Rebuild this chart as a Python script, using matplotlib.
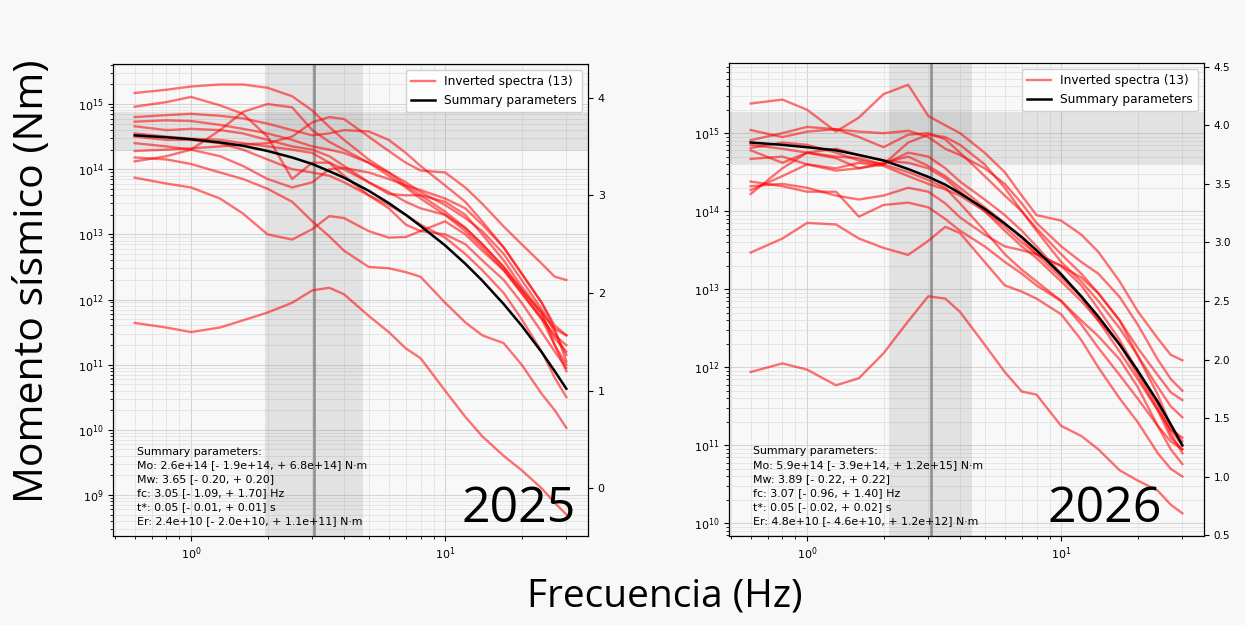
import matplotlib
matplotlib.use("Agg")
import matplotlib.pyplot as plt
import numpy as np

# Frequencies (Hz) where the spectra were sampled
FREQS = [0.6, 0.8, 1.0, 1.3, 1.6, 2.0, 2.5, 3.0, 3.5, 4.0, 5.0, 6.0, 7.0, 8.0,
         10, 12, 14, 17, 20, 24, 27, 30]

# --- 2025 event: log10 of seismic moment (N·m) for each inverted spectrum
SPEC_2025 = [
    [15.17, 15.22, 15.27, 15.30, 15.30, 15.25, 15.12, 14.90, 14.65, 14.45, 14.15, 13.95, 13.75, 13.60, 13.35, 13.10, 12.85, 12.50, 12.15, 11.80, 11.55, 11.45],
    [14.96, 15.03, 15.11, 14.98, 14.85, 14.50, 13.85, 14.10, 14.10, 14.00, 13.80, 13.65, 13.50, 13.40, 13.30, 13.10, 12.85, 12.50, 12.15, 11.75, 11.40, 11.20],
    [14.28, 14.30, 14.32, 14.35, 14.38, 14.40, 14.50, 14.72, 14.80, 14.77, 14.50, 14.28, 14.10, 13.98, 13.95, 13.72, 13.47, 13.12, 12.85, 12.55, 12.35, 12.30],
    [14.12, 14.20, 14.30, 14.60, 14.88, 15.00, 14.95, 14.60, 14.42, 14.30, 14.10, 13.90, 13.72, 13.55, 13.30, 13.05, 12.80, 12.45, 12.10, 11.70, 11.45, 11.30],
    [14.80, 14.83, 14.85, 14.82, 14.78, 14.70, 14.60, 14.52, 14.55, 14.60, 14.58, 14.45, 14.25, 14.05, 13.75, 13.50, 13.20, 12.80, 12.40, 11.95, 11.60, 11.45],
    [14.73, 14.75, 14.74, 14.68, 14.62, 14.55, 14.45, 14.35, 14.30, 14.25, 14.10, 13.95, 13.80, 13.65, 13.45, 13.25, 13.05, 12.70, 12.30, 11.85, 11.50, 11.15],
    [14.66, 14.60, 14.62, 14.60, 14.55, 14.45, 14.35, 14.30, 14.20, 14.05, 13.80, 13.62, 13.60, 13.60, 13.50, 13.30, 13.00, 12.60, 12.20, 11.80, 11.30, 11.00],
    [14.55, 14.50, 14.47, 14.45, 14.40, 14.35, 14.30, 14.25, 14.10, 13.90, 13.60, 13.40, 13.15, 13.05, 13.00, 12.85, 12.60, 12.30, 11.95, 11.50, 11.20, 10.95],
    [14.40, 14.35, 14.30, 14.20, 14.05, 13.85, 13.72, 13.80, 14.00, 14.02, 13.95, 13.85, 13.75, 13.68, 13.55, 13.40, 13.15, 12.80, 12.40, 11.95, 11.55, 11.05],
    [13.87, 13.78, 13.72, 13.55, 13.32, 13.00, 12.92, 13.08, 13.28, 13.25, 13.05, 12.95, 12.96, 13.05, 13.20, 13.00, 12.75, 12.45, 12.10, 11.70, 11.30, 10.90],
    [14.18, 14.15, 14.08, 13.95, 13.85, 13.70, 13.50, 13.20, 12.97, 12.75, 12.50, 12.48, 12.42, 12.35, 11.95, 11.65, 11.45, 11.33, 11.00, 10.55, 10.30, 10.03],
    [11.64, 11.57, 11.50, 11.57, 11.68, 11.80, 11.95, 12.14, 12.18, 12.08, 11.75, 11.50, 11.25, 11.10, 10.60, 10.20, 9.90, 9.60, 9.38, 9.10, 8.88, 8.70],
    [14.50, 14.45, 14.45, 14.40, 14.30, 14.15, 14.00, 13.95, 13.90, 13.80, 13.60, 13.45, 13.30, 13.15, 12.95, 12.70, 12.45, 12.10, 11.70, 11.20, 10.80, 10.50],
]
SUMMARY_2025 = [14.52, 14.49, 14.46, 14.41, 14.36, 14.28, 14.18, 14.08, 13.97, 13.87, 13.67, 13.48, 13.30, 13.13,
                12.83, 12.55, 12.29, 11.93, 11.60, 11.19, 10.90, 10.63]

# --- 2026 event
SPEC_2026 = [
    [15.38, 15.43, 15.30, 15.02, 15.20, 15.50, 15.62, 15.22, 15.10, 15.00, 14.75, 14.50, 14.20, 13.95, 13.88, 13.70, 13.48, 13.10, 12.72, 12.37, 12.16, 12.09],
    [15.04, 14.95, 15.02, 15.05, 15.02, 15.00, 15.03, 14.95, 14.80, 14.72, 14.55, 14.35, 14.10, 13.85, 13.55, 13.35, 13.20, 12.90, 12.55, 12.10, 11.85, 11.70],
    [14.91, 15.00, 15.08, 15.05, 14.95, 14.82, 14.98, 15.00, 14.92, 14.75, 14.45, 14.20, 14.00, 13.78, 13.45, 13.20, 12.95, 12.60, 12.25, 11.90, 11.68, 11.58],
    [14.81, 14.88, 14.85, 14.75, 14.65, 14.60, 14.88, 14.98, 14.95, 14.85, 14.60, 14.30, 14.00, 13.75, 13.35, 13.10, 12.85, 12.50, 12.15, 11.75, 11.50, 11.36],
    [14.78, 14.62, 14.75, 14.68, 14.55, 14.62, 14.70, 14.58, 14.45, 14.30, 14.05, 13.85, 13.65, 13.45, 13.15, 12.90, 12.65, 12.30, 11.90, 11.45, 11.20, 11.10],
    [14.67, 14.70, 14.60, 14.55, 14.62, 14.58, 14.45, 14.35, 14.28, 14.20, 14.00, 13.80, 13.60, 13.45, 13.30, 13.15, 12.95, 12.60, 12.15, 11.65, 11.25, 11.05],
    [14.22, 14.55, 14.75, 14.80, 14.72, 14.65, 14.62, 14.55, 14.42, 14.25, 14.00, 13.75, 13.55, 13.40, 13.10, 12.85, 12.60, 12.30, 11.95, 11.55, 11.20, 11.00],
    [14.27, 14.45, 14.60, 14.52, 14.55, 14.60, 14.75, 14.70, 14.55, 14.38, 14.15, 13.95, 13.75, 13.55, 13.20, 12.90, 12.60, 12.20, 11.85, 11.45, 11.10, 10.95],
    [14.38, 14.32, 14.25, 14.25, 13.93, 14.08, 14.11, 14.05, 13.90, 13.75, 13.55, 13.35, 13.20, 13.05, 12.85, 12.60, 12.40, 12.10, 11.75, 11.25, 10.95, 10.76],
    [14.32, 14.35, 14.30, 14.20, 14.15, 14.20, 14.30, 14.25, 14.10, 13.92, 13.70, 13.55, 13.50, 13.45, 13.30, 13.05, 12.75, 12.35, 11.95, 11.50, 11.15, 10.90],
    [13.47, 13.65, 13.85, 13.83, 13.65, 13.53, 13.44, 13.62, 13.80, 13.72, 13.35, 13.05, 12.97, 12.88, 12.68, 12.35, 12.00, 11.60, 11.30, 10.90, 10.70, 10.60],
    [11.94, 12.05, 11.97, 11.77, 11.86, 12.18, 12.59, 12.91, 12.88, 12.71, 12.29, 11.94, 11.69, 11.65, 11.25, 11.12, 10.95, 10.68, 10.55, 10.42, 10.24, 10.13],
    [14.85, 14.80, 14.75, 14.70, 14.68, 14.60, 14.50, 14.40, 14.30, 14.10, 13.75, 13.45, 13.25, 13.10, 12.85, 12.55, 12.25, 11.90, 11.60, 11.25, 11.05, 10.95],
]
SUMMARY_2026 = [14.88, 14.85, 14.82, 14.78, 14.72, 14.65, 14.54, 14.44, 14.34, 14.23, 14.03, 13.84, 13.67, 13.50,
                13.19, 12.91, 12.65, 12.29, 11.96, 11.56, 11.27, 11.00]

# Summary parameters: Mw, corner frequency and their uncertainties
MW = {"2025": (3.65, 0.20, 0.20), "2026": (3.89, 0.22, 0.22)}
FC = {"2025": (3.05, 1.09, 1.70), "2026": (3.07, 0.96, 1.40)}
INFO = {
    "2025": ["Mo: 2.6e+14 [- 1.9e+14, + 6.8e+14] N\u00b7m",
             "Mw: 3.65 [- 0.20, + 0.20]",
             "fc: 3.05 [- 1.09, + 1.70] Hz",
             "t*: 0.05 [- 0.01, + 0.01] s",
             "Er: 2.4e+10 [- 2.0e+10, + 1.1e+11] N\u00b7m"],
    "2026": ["Mo: 5.9e+14 [- 3.9e+14, + 1.2e+15] N\u00b7m",
             "Mw: 3.89 [- 0.22, + 0.22]",
             "fc: 3.07 [- 0.96, + 1.40] Hz",
             "t*: 0.05 [- 0.02, + 0.02] s",
             "Er: 4.8e+10 [- 4.6e+10, + 1.2e+12] N\u00b7m"],
}
# y-limits in log10(Mo)
YLIM = {"2025": (8.37, 15.615), "2026": (9.8425, 15.895)}
# right edge of the big year label, in axes fraction
YEAR_X = {"2025": 0.975, "2026": 0.912}

W, H = 1245, 625
BG = "#f8f8f8"
BIG_FONT = "Open Sans"


def mo(mw):
    return 10 ** (1.5 * mw + 9.1)


def draw_panel(ax, key, spectra, summary, twin_fs):
    ax.set_facecolor(BG)
    ax.set_xscale("log")
    ax.set_yscale("log")
    lo, hi = YLIM[key]

    mw, mw_lo, mw_hi = MW[key]
    fc, fc_lo, fc_hi = FC[key]
    ax.axvspan(fc - fc_lo, fc + fc_hi, color="gray", alpha=0.18, lw=0, zorder=0.6)
    ax.axhspan(mo(mw - mw_lo), mo(mw + mw_hi), color="gray", alpha=0.18, lw=0, zorder=0.6)
    ax.axvline(fc, color="gray", lw=2, alpha=0.8, zorder=0.8)

    for i, s in enumerate(spectra):
        ax.plot(FREQS, 10 ** np.array(s), color="red", alpha=0.55, lw=1.7,
                label=f"Inverted spectra ({len(spectra)})" if i == 0 else None)
    ax.plot(FREQS, 10 ** np.array(summary), color="black", lw=1.8,
            label="Summary parameters")

    ax.set_xlim(0.493, 36.5)
    ax.set_ylim(10 ** lo, 10 ** hi)
    ax.grid(True, which="major", color="#d4d4d4", lw=0.8)
    ax.grid(True, which="minor", color="#e2e2e2", lw=0.6)
    ax.set_axisbelow(True)
    ax.tick_params(labelsize=8)

    ax.legend(loc="upper right", fontsize=8.7, framealpha=0.9)

    txt = "Summary parameters:\n" + "\n".join(INFO[key])
    ax.text(0.05, 0.02, txt, transform=ax.transAxes, fontsize=7.9,
            va="bottom", ha="left", linespacing=1.5)
    ax.text(YEAR_X[key], 0.03, key, transform=ax.transAxes, fontsize=36,
            family=BIG_FONT, ha="right", va="baseline")

    twin = ax.twinx()
    twin.set_ylim((lo - 9.1) / 1.5, (hi - 9.1) / 1.5)
    twin.tick_params(labelsize=twin_fs)
    return twin


fig = plt.figure(figsize=(W / 100, H / 100), dpi=100, facecolor=BG)

ax1 = fig.add_axes([113 / W, 1 - 536 / H, 475 / W, 472 / H])
ax2 = fig.add_axes([729 / W, 1 - 535.7 / H, 475 / W, 472.4 / H])
draw_panel(ax1, "2025", SPEC_2025, SUMMARY_2025, 8)
draw_panel(ax2, "2026", SPEC_2026, SUMMARY_2026, 7.5)

fig.text(33 / W, 1 - 281 / H, "Momento s\u00edsmico (Nm)", rotation=90,
         fontsize=29.5, family=BIG_FONT, ha="center", va="center")
fig.text(665 / W, 1 - 597 / H, "Frecuencia (Hz)", fontsize=28,
         family=BIG_FONT, ha="center", va="center")

fig.savefig("out.png", dpi=100, facecolor=BG)
